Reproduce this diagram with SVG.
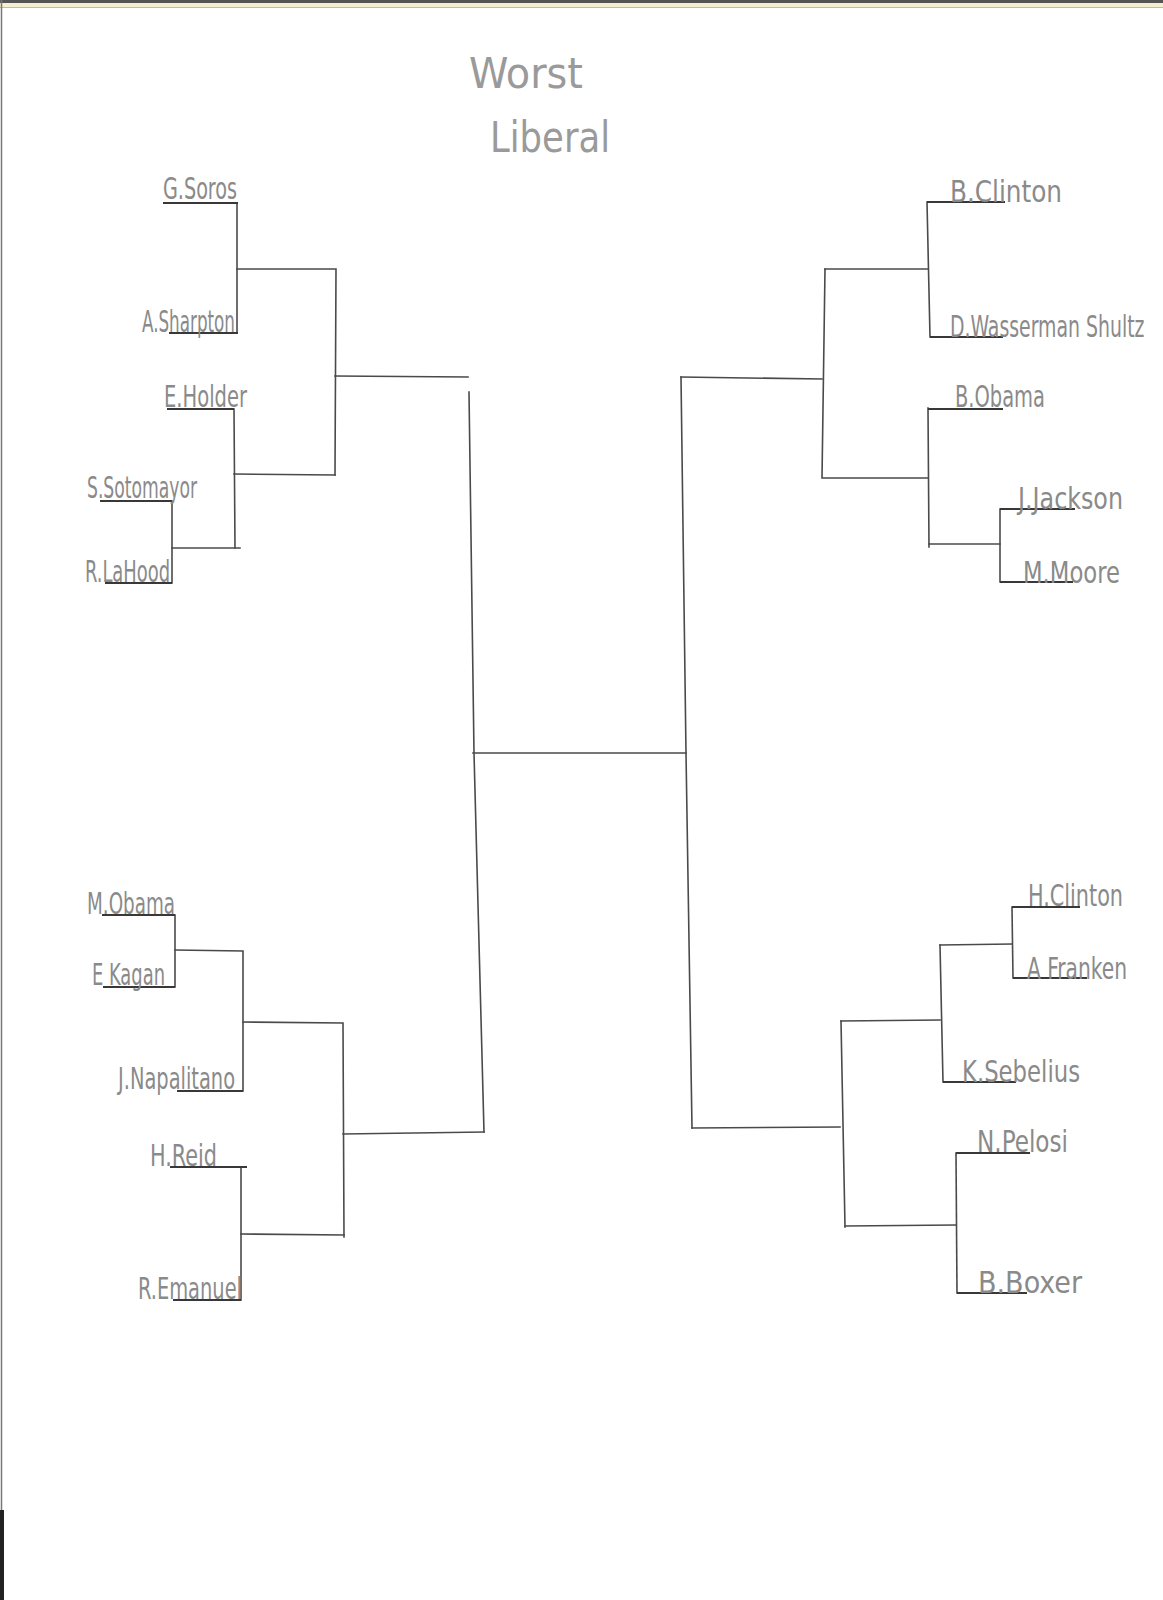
<svg xmlns="http://www.w3.org/2000/svg" width="1163" height="1600" viewBox="0 0 1163 1600">
<style>
.bg{fill:#ffffff}
.ln{fill:none;stroke:#4a4a4a;stroke-width:1.6;stroke-linecap:square;stroke-linejoin:miter}
.ul{fill:none;stroke:#383838;stroke-width:1.8}
.lbl{font-family:"DejaVu Sans Condensed","DejaVu Sans","Liberation Sans",sans-serif;font-size:30px;fill:#8a8a8a}
.ttl{font-family:"DejaVu Sans Condensed","DejaVu Sans","Liberation Sans",sans-serif;font-size:42px;fill:#9a9a9a}
</style>
<rect class="bg" x="0" y="0" width="1163" height="1600"/>
<g id="page-edge">
<rect x="0" y="0" width="1163" height="3" fill="#555"/>
<rect x="0" y="3" width="1163" height="4" fill="#f4efcf"/>
<line x1="0" y1="7.5" x2="1163" y2="7.5" stroke="#bbb" stroke-width="1"/>
<line x1="1.5" y1="0" x2="1.5" y2="1600" stroke="#777" stroke-width="1.5"/>
<rect x="0" y="1510" width="4" height="90" fill="#222"/>
</g>
<g id="title">
<text class="ttl" x="469" y="88" textLength="114" lengthAdjust="spacingAndGlyphs">Worst</text>
<text class="ttl" x="490" y="152" textLength="120" lengthAdjust="spacingAndGlyphs">Liberal</text>
</g>
<g id="connectors">
<polyline class="ln" points="237,203 237,333"/>
<polyline class="ln" points="237,269 336,269 335,475"/>
<polyline class="ln" points="234,409 235,548"/>
<polyline class="ln" points="234,474 335,475"/>
<polyline class="ln" points="172,501 172,583"/>
<polyline class="ln" points="172,548 240,548"/>
<polyline class="ln" points="335,376 468,377"/>
<polyline class="ln" points="175,915 175,987"/>
<polyline class="ln" points="175,950 243,951 243,1091"/>
<polyline class="ln" points="243,1022 343,1023 344,1237"/>
<polyline class="ln" points="241,1167 241,1300"/>
<polyline class="ln" points="241,1234 344,1235"/>
<polyline class="ln" points="343,1134 484,1132"/>
<polyline class="ln" points="469,392 474,753 484,1132"/>
<polyline class="ln" points="473,753 686,753"/>
<polyline class="ln" points="681,377 686,753 692,1128"/>
<polyline class="ln" points="681,377 822,379"/>
<polyline class="ln" points="927,202 930,337"/>
<polyline class="ln" points="825,269 928,269"/>
<polyline class="ln" points="825,269 822,478 928,478"/>
<polyline class="ln" points="928,408 929,547"/>
<polyline class="ln" points="929,544 1000,544"/>
<polyline class="ln" points="1000,509 1000,582"/>
<polyline class="ln" points="692,1128 840,1127"/>
<polyline class="ln" points="841,1021 845,1227"/>
<polyline class="ln" points="841,1021 940,1020"/>
<polyline class="ln" points="940,945 943,1082"/>
<polyline class="ln" points="940,945 1012,944"/>
<polyline class="ln" points="1012,907 1013,978"/>
<polyline class="ln" points="845,1226 956,1225"/>
<polyline class="ln" points="956,1153 957,1293"/>
</g>
<g id="n-soros"><line class="ul" x1="163" y1="203" x2="238" y2="203"/><text class="lbl" x="163" y="199" textLength="74" lengthAdjust="spacingAndGlyphs">G.Soros</text></g>
<g id="n-sharpton"><line class="ul" x1="169" y1="333" x2="238" y2="333"/><text class="lbl" x="142" y="332" textLength="93" lengthAdjust="spacingAndGlyphs">A.Sharpton</text></g>
<g id="n-holder"><line class="ul" x1="167" y1="409" x2="234" y2="409"/><text class="lbl" x="164" y="407" textLength="83" lengthAdjust="spacingAndGlyphs">E.Holder</text></g>
<g id="n-sotomayor"><line class="ul" x1="100" y1="501" x2="172" y2="501"/><text class="lbl" x="87" y="498" textLength="110" lengthAdjust="spacingAndGlyphs">S.Sotomayor</text></g>
<g id="n-lahood"><line class="ul" x1="105" y1="583" x2="172" y2="583"/><text class="lbl" x="85" y="582" textLength="85" lengthAdjust="spacingAndGlyphs">R.LaHood</text></g>
<g id="n-mobama"><line class="ul" x1="102" y1="915" x2="175" y2="915"/><text class="lbl" x="87" y="914" textLength="88" lengthAdjust="spacingAndGlyphs">M.Obama</text></g>
<g id="n-kagan"><line class="ul" x1="103" y1="987" x2="175" y2="987"/><text class="lbl" x="92" y="985" textLength="73" lengthAdjust="spacingAndGlyphs">E Kagan</text></g>
<g id="n-napalitano"><line class="ul" x1="177" y1="1091" x2="243" y2="1091"/><text class="lbl" x="118" y="1089" textLength="117" lengthAdjust="spacingAndGlyphs">J.Napalitano</text></g>
<g id="n-reid"><line class="ul" x1="170" y1="1167" x2="247" y2="1167"/><text class="lbl" x="150" y="1166" textLength="67" lengthAdjust="spacingAndGlyphs">H.Reid</text></g>
<g id="n-emanuel"><line class="ul" x1="173" y1="1300" x2="241" y2="1300"/><text class="lbl" x="138" y="1299" textLength="104" lengthAdjust="spacingAndGlyphs">R.Emanuel</text></g>
<g id="n-bclinton"><line class="ul" x1="927" y1="202" x2="1005" y2="202"/><text class="lbl" x="950" y="202" textLength="112" lengthAdjust="spacingAndGlyphs">B.Clinton</text></g>
<g id="n-dws"><line class="ul" x1="930" y1="337" x2="1003" y2="337"/><text class="lbl" transform="translate(950 337) scale(0.7 1)" x="0" y="0">D.Wasserman Shultz</text></g>
<g id="n-bobama"><line class="ul" x1="928" y1="409" x2="1003" y2="409"/><text class="lbl" x="955" y="407" textLength="90" lengthAdjust="spacingAndGlyphs">B.Obama</text></g>
<g id="n-jackson"><line class="ul" x1="1000" y1="509" x2="1075" y2="509"/><text class="lbl" x="1018" y="509" textLength="105" lengthAdjust="spacingAndGlyphs">J.Jackson</text></g>
<g id="n-moore"><line class="ul" x1="1000" y1="582" x2="1073" y2="582"/><text class="lbl" x="1023" y="583" textLength="97" lengthAdjust="spacingAndGlyphs">M.Moore</text></g>
<g id="n-hclinton"><line class="ul" x1="1012" y1="907" x2="1080" y2="907"/><text class="lbl" x="1028" y="906" textLength="95" lengthAdjust="spacingAndGlyphs">H.Clinton</text></g>
<g id="n-franken"><line class="ul" x1="1013" y1="978" x2="1087" y2="978"/><text class="lbl" x="1027" y="979" textLength="100" lengthAdjust="spacingAndGlyphs">A Franken</text></g>
<g id="n-sebelius"><line class="ul" x1="943" y1="1082" x2="1016" y2="1082"/><text class="lbl" x="962" y="1082" textLength="118" lengthAdjust="spacingAndGlyphs">K.Sebelius</text></g>
<g id="n-pelosi"><line class="ul" x1="956" y1="1153" x2="1030" y2="1153"/><text class="lbl" x="977" y="1152" textLength="91" lengthAdjust="spacingAndGlyphs">N.Pelosi</text></g>
<g id="n-boxer"><line class="ul" x1="957" y1="1293" x2="1027" y2="1293"/><text class="lbl" x="978" y="1293" textLength="104" lengthAdjust="spacingAndGlyphs">B.Boxer</text></g>
</svg>
